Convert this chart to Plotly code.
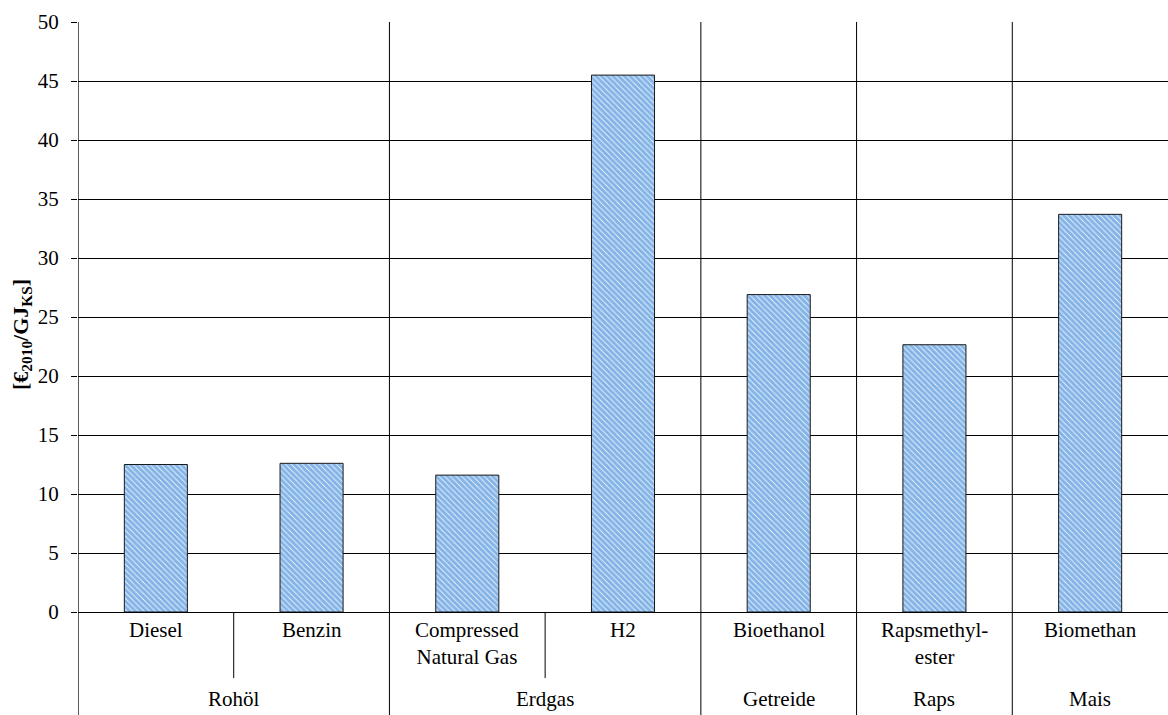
import plotly.graph_objects as go

# Fuel costs per GJ of fuel, grouped by primary energy source
groups = ["Rohöl", "Rohöl", "Erdgas", "Erdgas", "Getreide", "Raps", "Mais"]
fuels = ["Diesel", "Benzin", "Compressed<br>Natural Gas", "H2", "Bioethanol",
         "Rapsmethyl-<br>ester", "Biomethan"]
costs = [12.5, 12.6, 11.6, 45.5, 26.9, 22.65, 33.7]
y_ticks = [0, 5, 10, 15, 20, 25, 30, 35, 40, 45, 50]

FONT = "Liberation Serif"
FS = 21
n = len(fuels)
xs = [i + 0.5 for i in range(n)]

fig = go.Figure(go.Bar(
    x=xs, y=costs, width=0.405,
    marker=dict(color="white",
                line=dict(color="#1a1a1a", width=1),
                pattern=dict(shape="\\", fgcolor="#0a6ad0", bgcolor="white",
                             size=4, solidity=0.8)),
    hoverinfo="y",
))

# group runs -> boundaries and centres
runs = []
start = 0
for i in range(1, n + 1):
    if i == n or groups[i] != groups[start]:
        runs.append((groups[start], start, i))
        start = i

LABEL_BOTTOM = -0.175   # bottom of the label block (paper units)
SHORT_BOTTOM = -0.112

shapes = []
# left axis line running through the label block
shapes.append(dict(type="line", xref="x", yref="paper", x0=0, x1=0,
                   y0=LABEL_BOTTOM, y1=1, line=dict(color="black", width=1.3)))
group_edges = [r[2] for r in runs[:-1]]
for e in group_edges:
    shapes.append(dict(type="line", xref="x", yref="paper", x0=e, x1=e,
                       y0=LABEL_BOTTOM, y1=1, line=dict(color="black", width=1)))
for i in range(1, n):
    if i not in group_edges:
        shapes.append(dict(type="line", xref="x", yref="paper", x0=i, x1=i,
                           y0=SHORT_BOTTOM, y1=0, line=dict(color="black", width=1)))

annotations = []
for x, name in zip(xs, fuels):
    annotations.append(dict(x=x, y=-0.006, xref="x", yref="paper", text=name,
                            showarrow=False, xanchor="center", yanchor="top",
                            font=dict(family=FONT, size=FS, color="black")))
for name, a, b in runs:
    annotations.append(dict(x=(a + b) / 2, y=-0.148, xref="x", yref="paper",
                            text=name, showarrow=False, xanchor="center",
                            yanchor="middle",
                            font=dict(family=FONT, size=FS, color="black")))
annotations.append(dict(x=-0.052, y=0.47, xref="paper", yref="paper",
                        text="<b>[€<sub>2010</sub>/GJ<sub>KS</sub>]</b>",
                        textangle=-90, showarrow=False, xanchor="center",
                        yanchor="middle",
                        font=dict(family=FONT, size=22, color="black")))

fig.update_layout(
    width=1168, height=715,
    margin=dict(l=78, r=0, t=22, b=103),
    paper_bgcolor="white", plot_bgcolor="white",
    showlegend=False,
    shapes=shapes, annotations=annotations,
    font=dict(family=FONT, size=FS, color="black"),
    xaxis=dict(range=[0, n], showticklabels=False, showgrid=False,
               zeroline=False, showline=False, ticks=""),
    yaxis=dict(range=[0, 50], tickvals=y_ticks, showgrid=True,
               gridcolor="black", gridwidth=1, zeroline=True,
               zerolinecolor="black", zerolinewidth=1.3,
               ticks="outside", ticklen=6, tickcolor="black",
               ticklabelstandoff=8,
               tickfont=dict(family=FONT, size=FS, color="black")),
)

fig.write_html("out.html")
